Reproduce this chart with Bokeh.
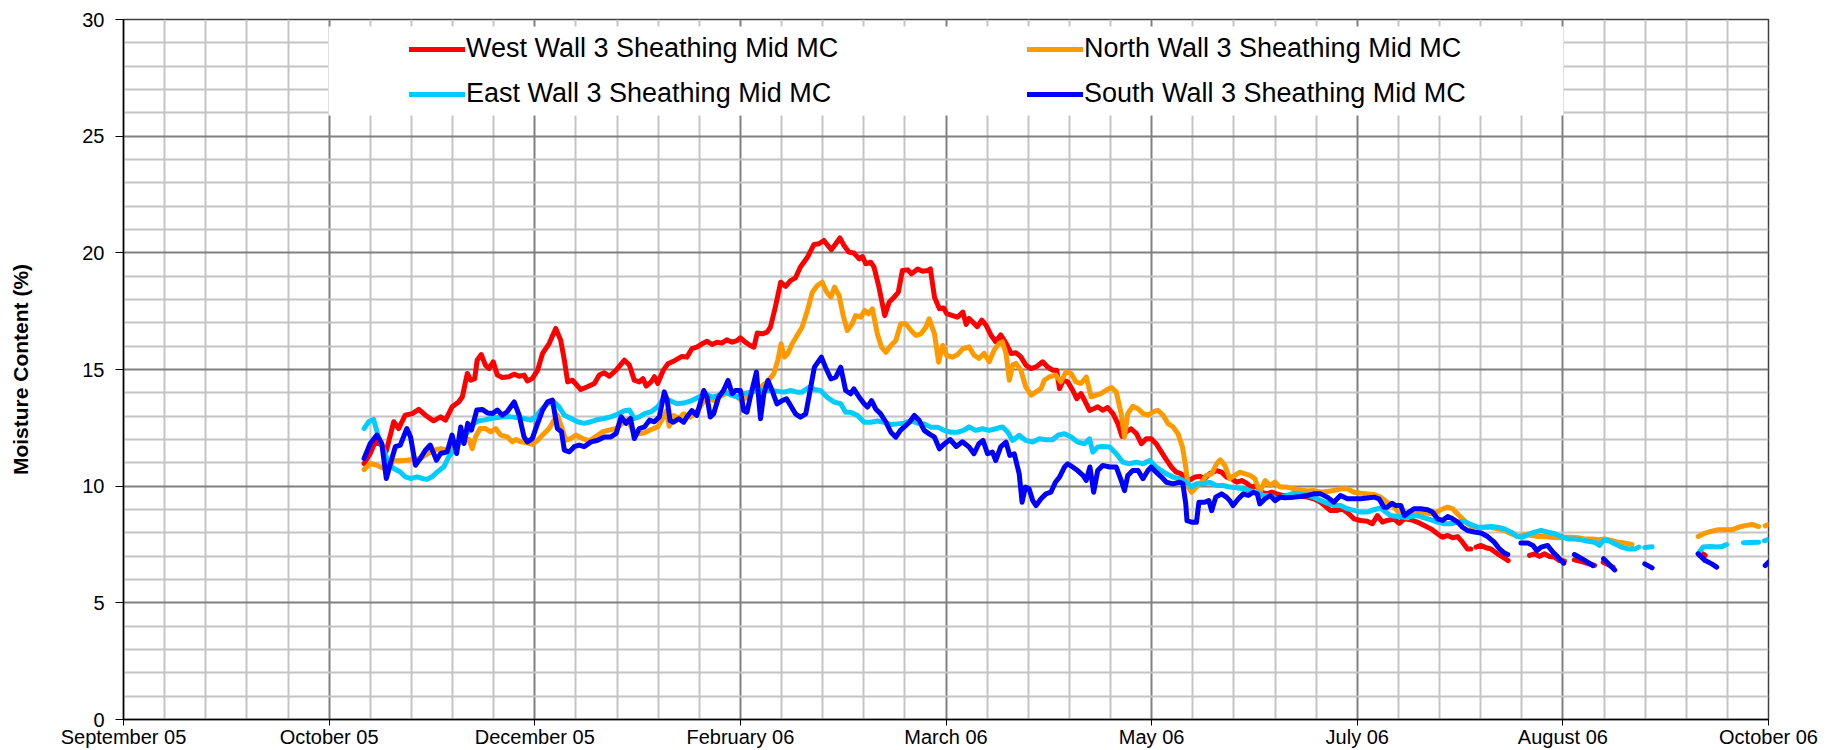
from bokeh.plotting import figure
from bokeh.models import FixedTicker, Legend, LegendItem, BoxAnnotation
from bokeh.embed import file_html
from bokeh.resources import INLINE

nan = float("nan")

# ---------------- data (x = days from the axis origin, y = moisture content %) ----------------
tick_days = [0, 50, 100, 150, 200, 250, 300, 350, 400]
tick_labels = ["September 05", "October 05", "December 05", "February 06", "March 06",
               "May 06", "July 06", "August 06", "October 06"]
y_ticks = [0, 5, 10, 15, 20, 25, 30]

west = [(58.5,10.97),(60.0,11.4),(61.2,11.9),(62.8,11.76),(63.9,11.5),(65.7,12.76),(66.9,12.47),(68.5,13.04),(70.2,13.11),(71.8,13.29),(73.4,13.04),(75.4,12.8),(77.1,12.97),(78.3,12.83),(79.9,13.4),(81.5,13.61),(82.4,13.83),(83.6,14.83),(84.4,14.54),(85.4,14.61),(86.0,15.4),(87.0,15.64),(88.0,15.19),(88.9,15.04),(89.9,15.33),(90.9,14.76),(92.1,14.66),(93.7,14.69),(95.0,14.8),(96.2,14.71),(97.4,14.76),(98.2,14.51),(99.4,14.61),(100.7,14.97),(101.9,15.69),(103.5,16.11),(105.1,16.76),(106.3,16.26),(107.2,15.4),(108.0,14.47),(109.2,14.54),(111.2,14.14),(112.8,14.26),(114.5,14.4),(115.7,14.76),(116.9,14.86),(118.1,14.71),(119.8,14.97),(121.8,15.4),(123.0,15.19),(124.2,14.54),(125.4,14.47),(126.3,14.61),(127.1,14.29),(128.3,14.47),(129.1,14.69),(129.9,14.4),(131.2,14.95),(132.4,15.25),(134.1,15.39),(135.8,15.56),(137.0,15.53),(138.2,15.89),(139.4,15.96),(140.7,16.1),(141.9,16.21),(143.1,16.07),(144.3,16.17),(145.5,16.13),(146.7,16.27),(148.0,16.17),(149.2,16.24),(150.0,16.36),(151.2,16.17),(152.4,16.03),(153.3,15.96),(154.1,16.56),(155.3,16.53),(156.5,16.6),(157.3,16.81),(158.5,17.67),(159.8,18.74),(161.0,18.56),(162.2,18.81),(163.4,18.93),(164.6,19.39),(166.3,19.81),(167.9,20.36),(169.1,20.39),(170.3,20.53),(172.1,20.13),(173.2,20.39),(174.2,20.64),(175.2,20.31),(176.4,20.03),(177.6,19.99),(178.9,19.74),(179.7,19.84),(180.5,19.53),(181.7,19.6),(182.5,19.39),(183.7,18.53),(185.1,17.31),(186.2,17.89),(187.4,18.1),(188.4,18.31),(189.4,19.24),(190.7,19.27),(191.6,19.1),(193.1,19.31),(194.3,19.21),(195.5,19.24),(196.2,19.31),(197.2,18.1),(198.4,17.6),(199.4,17.64),(200.2,17.39),(201.6,17.31),(202.8,17.24),(204.1,17.46),(204.9,16.93),(205.6,17.19),(206.8,16.98),(207.6,16.83),(208.7,17.12),(209.7,16.91),(210.9,16.48),(212.1,16.19),(213.3,16.48),(214.6,16.12),(215.8,15.69),(217.0,15.72),(218.2,15.54),(219.4,15.19),(220.7,15.04),(221.9,15.11),(223.5,15.33),(224.7,15.11),(225.9,14.97),(226.9,14.97),(227.6,14.18),(228.5,14.54),(229.6,14.47),(230.8,14.11),(231.8,13.75),(232.8,13.97),(233.7,13.68),(234.9,13.25),(235.9,13.32),(236.9,13.4),(238.1,13.25),(239.3,13.37),(240.6,13.11),(241.8,12.68),(242.8,12.13),(243.8,12.32),(245.0,12.46),(246.3,12.25),(247.5,11.82),(248.7,12.03),(249.9,12.03),(251.1,11.82),(252.4,11.46),(253.6,11.13),(254.8,10.82),(256.0,10.6),(257.2,10.53),(258.3,10.17),(259.3,10.27),(260.5,10.39),(261.7,10.42),(262.9,10.32),(264.1,10.53),(265.8,10.67),(267.0,10.6),(268.2,10.39),(269.4,10.32),(270.7,10.17),(271.9,10.24),(273.1,10.13),(274.3,9.96),(275.5,10.03),(276.7,9.74),(278.0,9.67),(279.2,9.74),(280.4,9.67),(281.8,9.6),(284.6,9.6),(287.8,9.53),(289.4,9.46),(291.1,9.31),(292.3,9.13),(293.5,8.96),(295.1,8.96),(296.3,9.03),(298.0,8.81),(299.2,8.6),(300.8,8.53),(302.4,8.5),(303.7,8.39),(304.9,8.74),(306.1,8.46),(307.3,8.53),(308.9,8.6),(310.2,8.41),(311.4,8.6),(313.0,8.56),(314.6,8.46),(316.3,8.31),(317.9,8.17),(319.5,7.96),(320.7,7.81),(322.0,7.89),(323.2,7.79),(324.4,7.84),(325.6,7.6),(326.8,7.31),(327.6,7.31),(328.2,nan),(328.9,7.39),(330.1,7.46),(331.3,7.36),(332.5,7.31),(334.1,7.1),(335.4,6.96),(336.7,6.81),(339.0,nan),(341.9,7.03),(343.1,7.1),(344.3,6.99),(345.5,7.1),(346.7,6.99),(348.0,6.96),(349.2,6.81),(350.4,6.79),(351.5,nan),(352.8,6.84),(355.0,6.75),(357.7,6.6),(358.8,nan),(359.8,6.74),(362.2,6.53),(372.0,nan),(383.3,7.17),(384.6,7.03)]

north = [(58.5,10.71),(60.0,10.97),(61.6,10.9),(63.3,10.76),(65.7,11.09),(67.3,11.09),(68.9,11.11),(70.6,11.14),(72.2,11.19),(73.8,11.37),(75.4,11.54),(77.1,11.61),(78.7,11.54),(80.3,11.69),(82.8,11.97),(84.0,12.0),(84.8,11.61),(85.6,12.11),(86.7,12.47),(88.0,12.47),(89.3,12.33),(90.5,12.47),(91.7,12.19),(93.3,12.11),(94.6,11.9),(95.4,12.0),(96.6,11.9),(98.2,11.86),(99.4,11.79),(100.7,11.97),(101.9,12.19),(103.5,12.47),(104.7,12.83),(105.5,13.04),(106.5,12.54),(107.6,11.97),(108.8,12.04),(110.0,12.19),(111.6,12.04),(113.3,11.94),(114.9,12.14),(116.5,12.33),(118.1,12.4),(119.8,12.47),(121.4,12.71),(122.6,12.86),(123.8,12.4),(125.0,12.23),(126.7,12.29),(128.3,12.43),(129.9,12.54),(131.1,12.9),(132.0,13.23),(132.7,12.57),(133.7,13.03),(135.0,12.89),(136.2,13.1),(137.8,12.96),(139.0,13.1),(140.7,13.53),(141.9,13.81),(143.5,13.67),(144.7,13.81),(146.3,13.96),(147.6,13.99),(149.2,13.81),(150.4,13.67),(151.6,13.81),(153.3,14.1),(154.9,14.24),(156.5,14.46),(158.1,14.81),(159.1,15.39),(159.9,16.1),(160.7,15.53),(161.5,15.67),(162.6,16.1),(163.8,16.46),(165.0,16.81),(166.3,17.53),(167.5,18.31),(168.7,18.6),(169.9,18.74),(171.0,18.31),(172.0,18.1),(172.9,18.53),(174.0,18.17),(175.0,17.31),(176.0,16.67),(177.2,16.96),(178.0,17.31),(179.3,17.24),(180.2,17.53),(181.1,17.39),(182.1,17.6),(183.3,16.53),(184.3,15.96),(185.4,15.74),(186.6,16.03),(187.8,16.24),(189.0,16.96),(190.2,16.96),(191.5,16.67),(192.7,16.46),(193.9,16.53),(195.1,16.81),(195.9,17.17),(197.2,16.53),(198.2,15.31),(199.2,16.03),(200.2,15.6),(201.6,15.53),(202.8,15.64),(204.1,15.89),(205.6,15.97),(206.8,15.62),(208.0,15.47),(209.3,15.69),(210.5,15.33),(211.7,15.83),(212.9,16.12),(213.7,16.19),(214.6,15.69),(215.4,14.54),(216.2,15.19),(217.0,15.26),(218.2,14.97),(219.4,14.25),(220.7,13.9),(221.9,14.04),(223.1,14.18),(223.9,14.54),(225.1,14.68),(226.7,14.76),(227.9,14.47),(229.2,14.9),(230.4,14.83),(231.6,14.47),(232.8,14.4),(234.1,14.68),(235.3,13.83),(236.5,13.9),(237.7,13.97),(238.9,14.11),(240.2,14.23),(241.4,14.04),(242.6,13.11),(243.4,12.11),(244.2,13.11),(245.4,13.42),(246.7,13.32),(247.9,13.11),(249.1,13.04),(250.3,13.18),(251.5,13.25),(252.8,13.04),(254.0,12.68),(255.2,12.54),(256.4,12.25),(257.5,11.68),(258.3,10.82),(258.9,9.96),(259.7,9.74),(260.9,9.96),(262.1,10.17),(263.3,10.46),(264.6,10.53),(265.8,10.96),(266.7,11.13),(267.8,10.89),(269.0,10.32),(270.2,10.46),(271.5,10.6),(272.7,10.53),(273.9,10.46),(275.1,10.32),(276.3,9.74),(277.6,10.24),(278.8,10.03),(280.0,10.17),(281.2,9.96),(282.9,9.96),(284.6,9.89),(286.2,9.84),(287.8,9.79),(289.4,9.81),(291.1,9.74),(292.7,9.77),(294.3,9.81),(295.9,9.89),(297.6,9.89),(299.2,9.74),(300.8,9.7),(302.4,9.67),(304.1,9.64),(305.7,9.53),(307.3,9.31),(308.9,9.13),(310.6,8.74),(312.2,8.64),(313.8,8.81),(315.4,8.84),(317.1,8.84),(318.7,8.81),(320.3,8.99),(322.0,9.1),(323.2,9.03),(324.4,8.81),(325.6,8.6),(326.8,8.39),(328.0,8.24),(329.3,8.21),(330.9,8.24),(332.5,8.24),(334.1,8.17),(335.8,8.1),(337.4,7.96),(339.0,7.84),(340.7,7.93),(342.3,7.89),(343.9,7.84),(345.5,7.84),(347.2,7.81),(348.8,7.79),(350.4,7.81),(352.0,7.81),(353.7,7.79),(355.3,7.74),(356.9,7.74),(358.5,7.7),(360.2,7.74),(361.8,7.67),(363.4,7.6),(365.0,7.56),(366.8,7.5),(375.0,nan),(382.9,7.84),(384.6,7.99),(386.2,8.07),(387.8,8.13),(389.5,8.13),(391.1,8.13),(392.7,8.24),(394.3,8.31),(396.0,8.36),(397.6,8.27),(398.4,nan),(399.2,8.3),(400.0,8.36)]

east = [(58.5,12.47),(59.6,12.76),(60.8,12.86),(62.0,12.11),(63.3,11.54),(64.5,10.97),(65.7,10.76),(67.3,10.61),(68.5,10.4),(69.8,10.33),(71.4,10.4),(72.6,10.33),(73.8,10.29),(75.0,10.4),(76.3,10.61),(77.9,10.83),(79.1,11.26),(80.3,11.54),(81.5,11.83),(82.8,12.11),(84.0,12.4),(85.2,12.69),(86.4,12.8),(87.6,12.83),(89.3,12.9),(90.9,12.94),(92.5,12.97),(94.1,12.97),(95.8,12.94),(97.4,12.9),(99.0,12.83),(100.2,12.97),(101.5,13.26),(103.1,13.54),(104.7,13.61),(105.9,13.4),(107.2,13.04),(108.8,12.9),(110.4,12.76),(112.0,12.69),(113.7,12.76),(115.3,12.86),(116.9,12.9),(118.5,12.97),(120.2,13.09),(121.8,13.23),(123.0,13.26),(124.2,12.9),(125.4,12.97),(126.7,13.11),(128.3,13.19),(129.9,13.4),(131.1,13.69),(132.4,13.7),(134.6,13.53),(136.2,13.56),(138.2,13.67),(139.8,13.81),(141.5,13.96),(143.1,13.81),(144.7,13.89),(146.3,14.03),(148.0,13.89),(149.6,13.81),(150.8,13.96),(152.4,14.03),(154.1,14.1),(155.7,14.1),(157.3,14.1),(158.9,14.07),(160.6,14.03),(162.2,14.1),(163.8,14.03),(165.0,14.03),(166.7,14.24),(168.3,14.13),(169.5,14.1),(171.1,13.81),(172.8,13.6),(174.4,13.53),(175.6,13.17),(176.8,13.17),(178.5,13.03),(180.1,12.74),(181.7,12.74),(183.3,12.79),(185.0,12.74),(186.6,12.64),(188.2,12.67),(189.8,12.7),(191.5,12.81),(193.1,12.7),(194.7,12.67),(196.3,12.53),(198.0,12.53),(199.6,12.39),(201.2,12.31),(202.8,12.31),(204.5,12.41),(205.6,12.54),(207.2,12.39),(208.9,12.46),(210.5,12.39),(212.1,12.46),(213.7,12.54),(215.0,12.32),(216.2,11.96),(217.8,12.18),(219.4,11.96),(221.1,11.89),(222.7,12.03),(224.3,11.99),(225.9,11.99),(227.2,12.18),(228.8,12.25),(230.4,12.11),(232.0,11.89),(233.7,11.82),(234.9,12.03),(235.7,11.46),(236.9,11.68),(238.1,11.7),(239.8,11.68),(241.4,11.39),(243.0,11.03),(244.6,10.96),(246.3,11.03),(247.9,10.96),(249.5,11.1),(251.1,10.82),(252.4,10.67),(253.6,10.53),(255.2,10.39),(256.8,10.32),(258.5,10.17),(259.7,9.96),(260.9,10.1),(262.5,10.1),(264.1,10.17),(265.8,10.03),(267.4,10.03),(269.0,9.96),(270.7,9.93),(272.3,9.89),(273.9,9.81),(275.5,9.74),(277.2,9.6),(278.8,9.6),(280.4,9.45),(282.0,9.55),(284.6,9.7),(286.2,9.67),(287.8,9.6),(289.4,9.53),(291.1,9.39),(292.7,9.27),(294.3,9.17),(295.9,9.17),(297.6,9.03),(299.2,8.96),(300.8,8.89),(302.4,8.89),(304.1,8.99),(305.7,9.07),(306.9,8.89),(308.1,8.74),(309.8,8.7),(311.4,8.67),(313.0,8.7),(314.6,8.74),(316.3,8.64),(317.9,8.56),(319.5,8.46),(321.1,8.39),(322.8,8.39),(324.4,8.46),(326.0,8.5),(327.6,8.36),(329.3,8.24),(330.9,8.24),(332.5,8.27),(334.1,8.24),(335.8,8.17),(337.4,8.03),(339.0,7.84),(340.2,7.81),(341.5,7.93),(343.1,8.03),(344.7,8.1),(346.3,8.03),(348.0,7.96),(349.6,7.84),(351.2,7.74),(352.8,7.74),(354.5,7.7),(356.1,7.64),(357.7,7.6),(358.9,7.46),(359.8,7.67),(361.0,7.67),(362.6,7.53),(364.2,7.39),(365.9,7.31),(367.5,7.31),(368.5,7.39),(369.2,nan),(369.9,7.37),(371.7,7.4),(377.0,nan),(382.9,7.1),(384.1,7.39),(385.8,7.41),(387.4,7.39),(388.6,7.41),(389.8,7.5),(391.8,nan),(393.9,7.58),(397.6,7.6),(398.3,nan),(399.0,7.66),(400.0,7.72)]

south = [(58.5,11.19),(60.0,11.83),(61.6,12.19),(62.8,11.83),(63.9,10.33),(64.9,10.97),(66.1,11.69),(67.3,11.76),(68.9,12.47),(69.8,12.11),(71.0,10.9),(72.2,11.19),(73.4,11.54),(74.6,11.76),(76.1,11.11),(77.1,11.4),(78.7,11.47),(79.9,12.19),(81.0,11.4),(82.0,12.54),(82.8,11.83),(83.7,12.69),(84.6,12.4),(85.9,13.26),(87.2,13.29),(88.5,13.14),(89.7,13.11),(90.9,13.26),(92.1,13.04),(93.3,13.19),(95.0,13.61),(96.2,13.04),(97.4,12.11),(98.2,11.9),(99.4,12.04),(100.7,12.69),(101.9,13.26),(103.1,13.61),(104.3,13.69),(105.5,12.47),(106.5,12.33),(107.2,11.54),(108.4,11.47),(109.6,11.69),(110.8,11.76),(112.0,11.69),(113.7,11.9),(115.3,11.97),(116.9,12.11),(118.5,12.11),(119.8,12.26),(121.0,12.97),(122.2,12.69),(123.3,12.9),(124.2,12.04),(125.4,12.47),(126.7,12.54),(127.9,12.83),(129.1,12.76),(130.3,12.97),(131.5,14.04),(132.2,13.69),(132.9,12.81),(133.7,12.74),(135.0,12.89),(136.2,12.74),(137.0,12.96),(138.2,13.24),(139.4,13.03),(140.2,13.53),(141.1,14.1),(141.9,13.81),(142.7,12.96),(143.5,13.1),(144.7,13.81),(145.9,14.1),(147.0,14.53),(148.0,13.96),(148.8,14.1),(150.0,14.1),(150.8,13.24),(151.6,13.17),(152.4,13.81),(153.9,14.89),(154.9,12.89),(155.7,13.96),(156.7,14.53),(157.7,14.1),(158.9,13.53),(160.2,13.67),(161.2,13.74),(162.2,13.46),(163.4,13.1),(164.6,12.96),(165.9,13.1),(167.1,14.24),(168.0,15.1),(169.7,15.53),(170.7,15.1),(172.0,14.6),(173.2,14.67),(174.4,15.1),(175.6,14.1),(176.8,13.96),(177.6,14.17),(178.9,13.81),(180.1,13.53),(180.9,13.39),(181.9,13.67),(182.9,13.31),(184.1,13.1),(185.4,12.74),(186.6,12.31),(187.8,12.1),(188.9,12.39),(189.8,12.53),(191.1,12.74),(192.3,13.03),(193.5,12.81),(194.7,12.39),(195.9,12.24),(197.2,12.1),(198.4,11.6),(199.5,11.8),(201.0,12.0),(202.5,11.7),(204.0,11.9),(205.6,11.68),(206.8,11.39),(208.0,11.82),(209.0,11.96),(210.1,11.39),(211.3,11.46),(212.1,11.1),(213.3,11.68),(214.6,11.89),(215.5,11.32),(216.6,11.39),(217.8,10.53),(218.5,9.31),(219.3,9.96),(220.2,9.89),(221.1,9.38),(221.9,9.17),(223.1,9.46),(224.3,9.67),(225.5,9.74),(226.6,10.17),(227.6,10.39),(228.8,10.82),(229.6,10.96),(230.8,10.82),(232.0,10.67),(233.3,10.46),(234.1,10.25),(235.0,10.82),(235.9,9.74),(236.9,10.67),(238.1,10.89),(239.8,10.82),(241.4,10.82),(242.6,10.25),(243.4,9.81),(244.2,10.46),(245.4,10.67),(246.7,10.67),(247.9,10.32),(249.1,10.67),(249.9,10.82),(251.1,10.6),(252.4,10.39),(253.6,10.17),(255.2,10.1),(256.8,10.17),(257.6,10.1),(258.3,9.24),(258.6,8.52),(259.9,8.45),(260.9,8.45),(261.5,9.31),(262.9,9.31),(263.9,9.38),(264.6,8.95),(265.6,9.53),(267.0,9.67),(268.2,9.53),(269.0,9.38),(269.8,9.17),(271.1,9.46),(272.3,9.67),(273.5,9.6),(274.7,9.74),(275.7,9.67),(276.3,9.24),(277.6,9.46),(278.8,9.6),(280.0,9.38),(281.2,9.53),(282.4,9.5),(284.6,9.53),(286.2,9.56),(287.8,9.6),(289.4,9.67),(291.1,9.67),(292.7,9.53),(294.3,9.31),(295.9,9.6),(297.6,9.46),(299.2,9.46),(300.8,9.46),(302.4,9.49),(304.1,9.53),(305.3,9.46),(306.5,9.1),(307.3,9.1),(308.5,9.27),(309.3,9.17),(310.6,9.17),(311.5,8.74),(312.6,8.89),(313.8,9.03),(315.4,9.03),(317.1,8.99),(318.3,8.89),(319.5,8.6),(320.7,8.53),(322.0,8.7),(323.2,8.6),(324.4,8.46),(325.6,8.24),(326.8,8.1),(328.5,8.03),(330.1,7.99),(331.7,7.84),(333.3,7.6),(334.6,7.31),(335.8,7.13),(336.6,7.07),(338.0,nan),(339.8,7.56),(341.5,7.56),(342.7,7.46),(343.7,7.24),(344.7,7.39),(346.3,7.46),(347.6,7.17),(348.8,6.96),(350.2,6.7),(351.5,nan),(352.8,7.07),(355.0,6.85),(357.3,6.6),(358.6,nan),(359.9,6.89),(362.6,6.41),(366.0,nan),(369.9,6.67),(371.7,6.5),(377.0,nan),(382.9,7.1),(384.6,6.81),(386.2,6.67),(387.4,6.53),(393.0,nan),(399.2,6.6),(400.0,6.74)]

series_names = ["West Wall 3 Sheathing Mid MC", "North Wall 3 Sheathing Mid MC",
                "East Wall 3 Sheathing Mid MC", "South Wall 3 Sheathing Mid MC"]
series_colors = ["#FF0000", "#FF9900", "#00CCFF", "#0000FF"]

# ---------------- layout constants (pixels) ----------------
W, H = 1836, 750
BL, BT = 123, 19
FW, FH = 1645, 700
BR, BB = W - BL - FW, H - BT - FH
X_MAX, Y_MAX = 400, 30
FONT = "Liberation Sans"

p = figure(width=W, height=H, output_backend="svg", toolbar_location=None,
           x_range=(0, X_MAX), y_range=(0, Y_MAX),
           min_border_left=BL, min_border_right=BR, min_border_top=BT, min_border_bottom=BB)
p.title.visible = False
p.background_fill_color = "white"
p.border_fill_color = "white"
p.outline_line_color = "#404040"
p.outline_line_width = 1.5

# ticks and grids
p.xaxis.ticker = FixedTicker(ticks=tick_days, minor_ticks=[d for d in range(0, X_MAX + 1, 10) if d % 50])
p.yaxis.ticker = FixedTicker(ticks=y_ticks, minor_ticks=[v for v in range(0, Y_MAX + 1) if v % 5])
for g in (p.xgrid, p.ygrid):
    g.grid_line_color = "#808080"
    g.grid_line_width = 2
    g.minor_grid_line_color = "#C4C4C4"
    g.minor_grid_line_width = 2

# y axis
ya = p.yaxis[0]
ya.axis_line_color = "black"
ya.axis_line_width = 1.5
ya.major_tick_line_color = "black"
ya.major_tick_out = 8
ya.major_tick_in = 0
ya.minor_tick_line_color = None
ya.major_label_standoff = 11
ya.major_label_text_font = FONT
ya.major_label_text_font_size = "20px"
ya.major_label_text_color = "black"
ya.axis_label = "Moisture Content (%)"
ya.axis_label_text_font = FONT
ya.axis_label_text_font_size = "21px"
ya.axis_label_text_font_style = "bold"
ya.axis_label_text_color = "black"
ya.axis_label_standoff = 47

# x axis
xa = p.xaxis[0]
xa.axis_line_color = "black"
xa.axis_line_width = 1.5
xa.major_tick_line_color = "black"
xa.major_tick_out = 6
xa.major_tick_in = 0
xa.minor_tick_line_color = None
xa.major_label_overrides = dict(zip(tick_days, tick_labels))
xa.major_label_text_font = FONT
xa.major_label_text_font_size = "20px"
xa.major_label_text_color = "black"
xa.major_label_standoff = 0

# data lines
renderers = []
for data, color in zip([west, north, east, south], series_colors):
    xs = [d for d, v in data]
    ys = [v for d, v in data]
    r = p.line(xs, ys, line_color=color, line_width=5, line_join="round", line_cap="round")
    renderers.append(r)

# legend background (white panel inside the plot, 328..1563 x 26..115 px on the page)
px_x = FW / X_MAX
px_y = FH / Y_MAX
p.add_layout(BoxAnnotation(left=205 / px_x, right=1440 / px_x, bottom=604 / px_y, top=693 / px_y,
                           fill_color="white", fill_alpha=1.0, line_color=None))

def make_legend(items, loc):
    return Legend(items=items, location=loc, orientation="vertical",
                  label_text_font=FONT, label_text_font_size="27px", label_text_color="black",
                  glyph_width=56, glyph_height=30, label_height=30, label_standoff=1,
                  padding=7, spacing=14, margin=0,
                  border_line_color=None, background_fill_alpha=0.0)

leg1 = make_legend([LegendItem(label=series_names[0], renderers=[renderers[0]]),
                    LegendItem(label=series_names[2], renderers=[renderers[2]])], (286, 610))
leg2 = make_legend([LegendItem(label=series_names[1], renderers=[renderers[1]]),
                    LegendItem(label=series_names[3], renderers=[renderers[3]])], (904, 610))
p.add_layout(leg1, "center")
p.add_layout(leg2, "center")

open("out.html", "w").write(file_html(p, INLINE))
